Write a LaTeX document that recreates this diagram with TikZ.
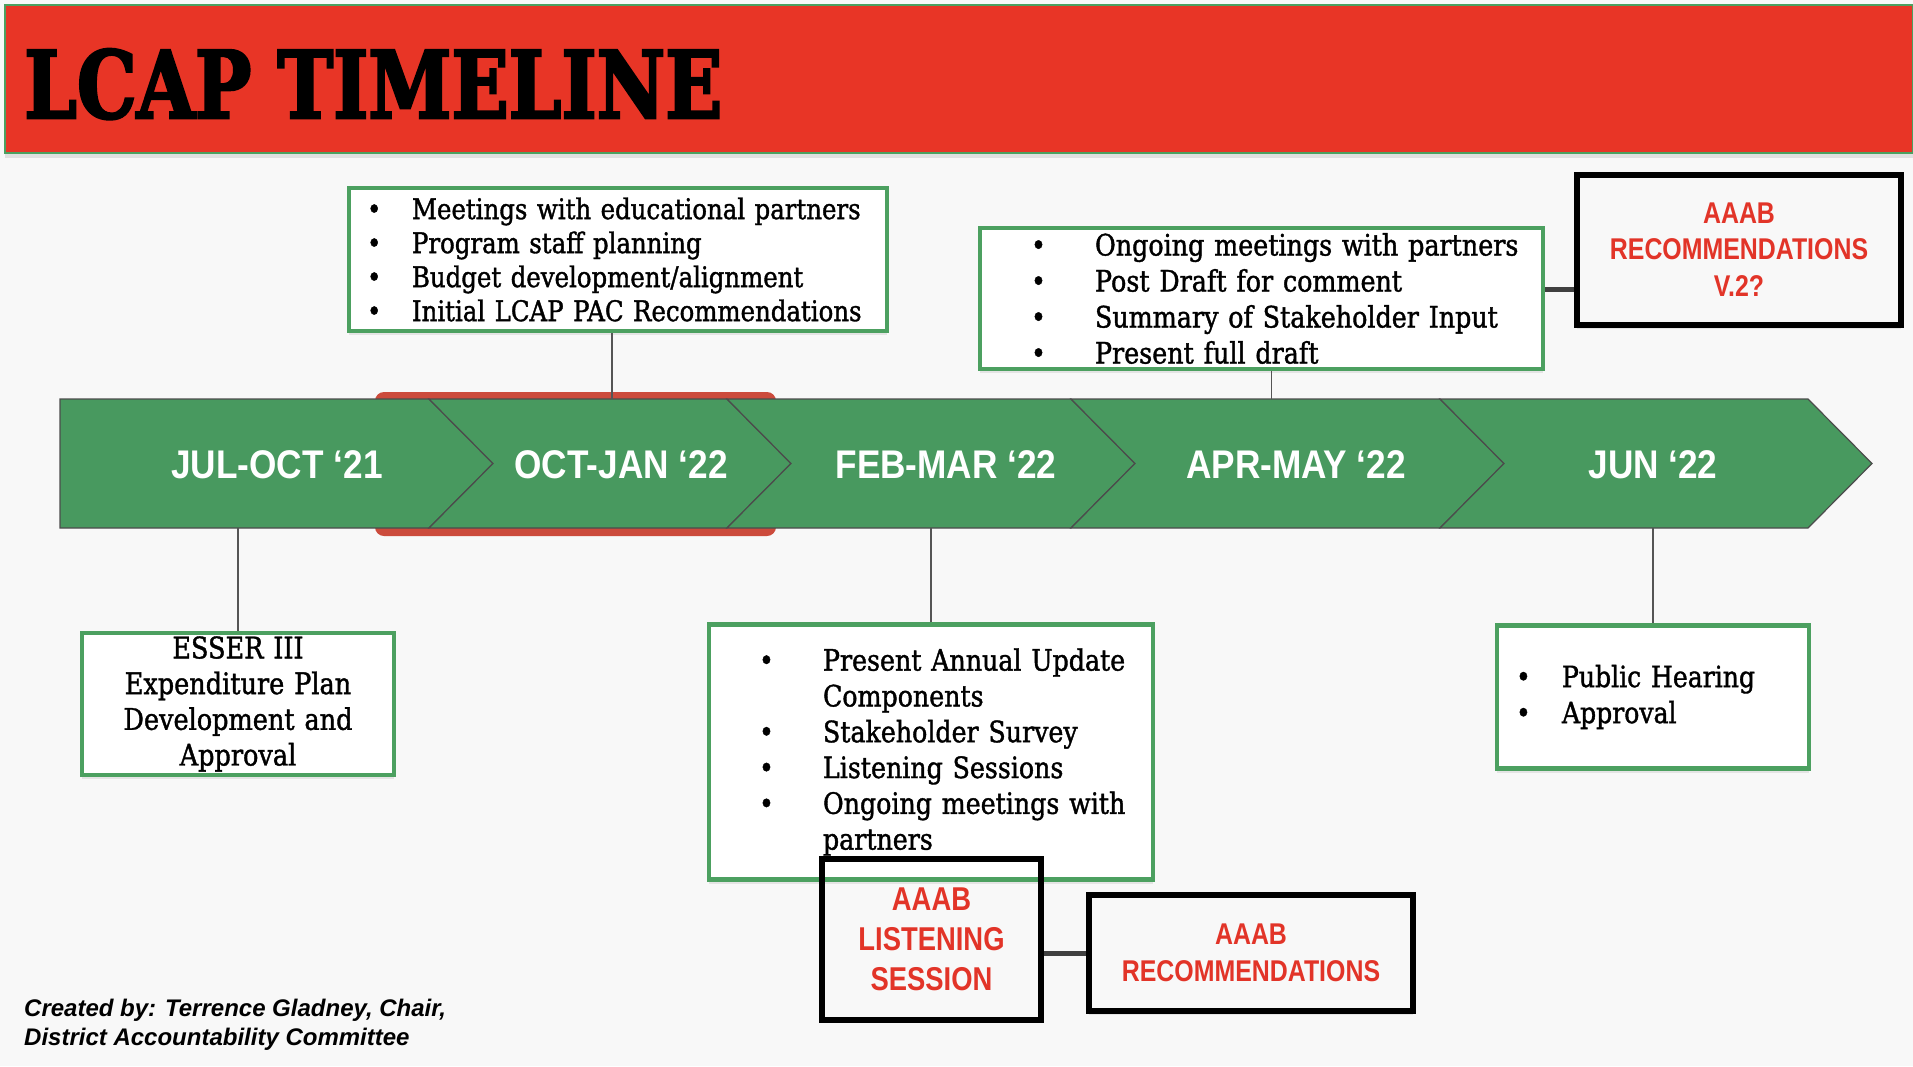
\documentclass[tikz,border=0pt]{standalone}
\usepackage{fontspec}
\usepackage{graphicx}
\usetikzlibrary{shadows}
\newfontfamily\boxfont{DejaVu Serif}[FakeStretch=0.86,FakeBold=1.3]
\newfontfamily\titlefont{DejaVu Serif}[FakeBold=3]
\newfontfamily\labelfont{Liberation Sans}[FakeStretch=0.88]
\newfontfamily\aaabfont{Liberation Sans}[FakeStretch=0.83]
\newfontfamily\credfont{Liberation Sans}
\definecolor{slidebg}{RGB}{248,248,248}
\definecolor{bannerred}{RGB}{232,53,38}
\definecolor{bandgreen}{RGB}{72,153,95}
\definecolor{boxgreen}{RGB}{76,160,96}
\definecolor{hilite}{RGB}{204,75,60}
\definecolor{aaabred}{RGB}{226,52,40}
\definecolor{linkgray}{RGB}{85,85,85}
% bullet: lead space, bullet column width
\newcommand{\bul}[2]{\hspace*{#1}\makebox[#2][l]{\textbullet}}
\hyphenpenalty=10000

\begin{document}
\begin{tikzpicture}[x=1pt,y=-1pt,
  chev/.style={fill=bandgreen,draw=black!70,line width=1.2pt,line join=miter},
  chevlabel/.style={text=white,font=\labelfont\bfseries\fontsize{40}{40}\selectfont,inner sep=0pt},
  softshadow/.style={drop shadow={shadow xshift=0pt,shadow yshift=-4pt,opacity=0.16}},
  infobox/.style={draw=boxgreen,line width=4.5pt,fill=white,inner ysep=0pt,softshadow},
  aaabbox/.style={draw=black,line width=6pt,text=aaabred,align=center,inner sep=0pt,
    font=\aaabfont\bfseries\fontsize{30}{36.5}\selectfont},
  link/.style={draw=linkgray,line width=1.5pt},
  thicklink/.style={draw=black!75,line width=5pt}]
\useasboundingbox (0,0) rectangle (1913,1066);
\fill[slidebg] (0,0) rectangle (1913,1066);

% banner
\fill[bannerred,draw=boxgreen,line width=1.5pt,
  drop shadow={shadow xshift=0pt,shadow yshift=-5pt,opacity=0.2}] (5,5) rectangle (1913,153);
\node[anchor=base west,inner sep=0pt] (title) at (24,118)
  {\resizebox{698pt}{69pt}{\titlefont\bfseries LCAP TIMELINE}};

% timeline band
\fill[hilite,rounded corners=9pt] (375,392) rectangle (776,536);
\draw[chev] (60,399) -- (429,399) -- (493,463.5) -- (429,528) -- (60,528) -- cycle;
\draw[chev] (429,399) -- (727,399) -- (791,463.5) -- (727,528) -- (429,528) -- (493,463.5) -- cycle;
\draw[chev] (727,399) -- (1071,399) -- (1135,463.5) -- (1071,528) -- (727,528) -- (791,463.5) -- cycle;
\draw[chev] (1071,399) -- (1440,399) -- (1504,463.5) -- (1440,528) -- (1071,528) -- (1135,463.5) -- cycle;
\draw[chev] (1440,399) -- (1808,399) -- (1872,463.5) -- (1808,528) -- (1440,528) -- (1504,463.5) -- cycle;
\coordinate (bandtop) at (0,399);
\coordinate (bandbot) at (0,528);

\node[chevlabel] (jul) at (277,465) {JUL-OCT ‘21};
\node[chevlabel] (oct) at (621,465) {OCT-JAN ‘22};
\node[chevlabel] (feb) at (946,465) {FEB-MAR ‘22};
\node[chevlabel] (apr) at (1296,465) {APR-MAY ‘22};
\node[chevlabel] (jun) at (1653,465) {JUN ‘22};

% boxes above
\node[infobox,minimum width=538pt,minimum height=143pt,inner xsep=12pt,text width=514pt,
  align=left,font=\boxfont\fontsize{28.4}{34}\selectfont] (meet) at (618,259.5)
  {\bul{6pt}{45pt}Meetings with educational partners\\
   \bul{6pt}{45pt}Program staff planning\\
   \bul{6pt}{45pt}Budget development/alignment\\
   \bul{6pt}{45pt}Initial LCAP PAC Recommendations};
\draw[link] ([xshift=-6pt]meet.south) -- ([xshift=-6pt]meet.south |- bandtop);

\node[infobox,minimum width=563pt,minimum height=141pt,inner xsep=12pt,text width=539pt,
  align=left,font=\boxfont\fontsize{29.5}{36}\selectfont] (ongoing) at (1261.5,298.5)
  {\bul{39pt}{64pt}Ongoing meetings with partners\\
   \bul{39pt}{64pt}Post Draft for comment\\
   \bul{39pt}{64pt}Summary of Stakeholder Input\\
   \bul{39pt}{64pt}Present full draft};
\draw[link] ([xshift=10pt]ongoing.south) -- ([xshift=10pt]ongoing.south |- bandtop);

\node[aaabbox,fill=slidebg,softshadow,minimum width=324pt,minimum height=150pt] (vtwo) at (1739,249.5)
  {AAAB\\RECOMMENDATIONS\\V.2?};
\draw[thicklink] ([yshift=9pt]ongoing.east) -- ([yshift=9pt]ongoing.east -| vtwo.west);

% boxes below
\node[infobox,minimum width=312pt,minimum height=142pt,text width=300pt,
  align=center,font=\boxfont\fontsize{29.7}{35.7}\selectfont] (esser) at (238,704)
  {ESSER III\\Expenditure Plan\\Development and\\Approval};
\draw[link] (esser.north) -- (esser.north |- bandbot);

\node[infobox,minimum width=444pt,minimum height=255pt,inner xsep=10pt,text width=424pt,
  align=left,font=\boxfont\fontsize{29.4}{35.8}\selectfont] (febbox) at (931,752)
  {\bul{40pt}{64pt}Present Annual Update\\
   \hspace*{104pt}Components\\
   \bul{40pt}{64pt}Stakeholder Survey\\
   \bul{40pt}{64pt}Listening Sessions\\
   \bul{40pt}{64pt}Ongoing meetings with\\
   \hspace*{104pt}partners};
\draw[link] (febbox.north) -- (febbox.north |- bandbot);

\node[infobox,minimum width=312pt,minimum height=143pt,inner xsep=12pt,text width=288pt,
  align=left,font=\boxfont\fontsize{29.2}{36}\selectfont] (junbox) at (1653,697)
  {\bul{7pt}{46pt}Public Hearing\\
   \bul{7pt}{46pt}Approval};
\draw[link] (junbox.north) -- (junbox.north |- bandbot);

\node[aaabbox,minimum width=219pt,minimum height=161pt,
  font=\aaabfont\bfseries\fontsize{33}{40}\selectfont] (listen) at (931.5,939)
  {AAAB\\LISTENING\\SESSION};
\node[aaabbox,fill=slidebg,softshadow,minimum width=324pt,minimum height=116pt,
  font=\aaabfont\bfseries\fontsize{30}{37}\selectfont] (recs) at (1251,953)
  {AAAB\\RECOMMENDATIONS};
\draw[thicklink] (listen.east |- recs.west) -- (recs.west);

% credit line
\node[anchor=west,align=left,inner sep=0pt,
  font=\credfont\bfseries\itshape\fontsize{24}{29.5}\selectfont] (credit) at (24,1025)
  {Created by: Terrence Gladney, Chair,\\District Accountability Committee};
\end{tikzpicture}
\end{document}
